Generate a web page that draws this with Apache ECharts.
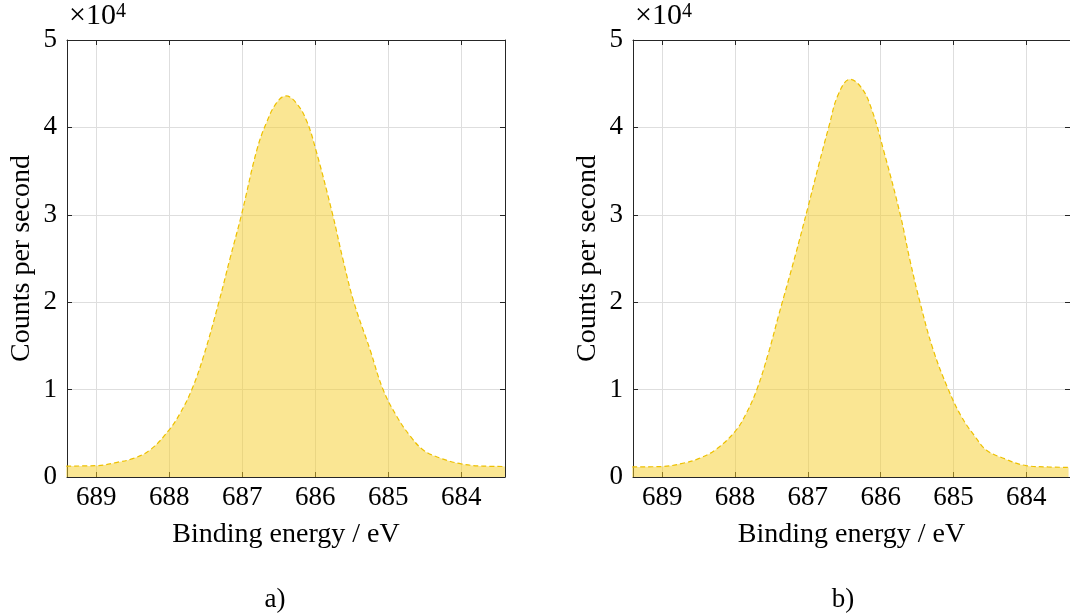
<!DOCTYPE html>
<html>
<head>
<meta charset="utf-8">
<script src="https://cdn.jsdelivr.net/npm/echarts@6/dist/echarts.min.js"></script>
<style>
  html, body { margin: 0; padding: 0; background: #fff; }
  #main { width: 1070px; height: 615px; }
</style>
</head>
<body>
<div id="main"></div>
<script>
// peak a) binding energy (eV) and counts per second
var energyA = [689.41, 689.00, 688.70, 688.50, 688.26, 688.00, 687.85, 687.69, 687.53, 687.32, 687.17, 687.01, 686.80, 686.67, 686.53, 686.40, 686.26, 686.12, 685.99, 685.76, 685.62, 685.47, 685.25, 685.07, 684.88, 684.70, 684.52, 684.30, 684.00, 683.70, 683.40];
var countsA = [1250, 1300, 1700, 2100, 3100, 5400, 7300, 10000, 13800, 20000, 24900, 30000, 37400, 40500, 42800, 43600, 42800, 40800, 37400, 30000, 24900, 20000, 14600, 10000, 6900, 4700, 3100, 2200, 1500, 1250, 1200];

// peak b)
var energyB = [689.41, 689.00, 688.70, 688.50, 688.27, 688.00, 687.85, 687.70, 687.54, 687.40, 687.17, 687.00, 686.85, 686.71, 686.58, 686.42, 686.26, 686.12, 685.96, 685.73, 685.60, 685.46, 685.28, 685.07, 684.89, 684.71, 684.55, 684.30, 684.00, 683.70, 683.42];
var countsB = [1150, 1200, 1600, 2100, 3100, 5200, 7200, 10000, 14200, 18500, 25400, 30800, 35700, 40100, 43800, 45500, 44500, 42000, 37400, 30000, 24900, 20000, 14600, 10000, 6900, 4700, 3100, 2100, 1300, 1150, 1100];

var yTicks = [0, 1, 2, 3, 4, 5];
var panelLabels = ['a)', 'b)'];
var xName = 'Binding energy / eV';
var yName = 'Counts per second';

var FONT = 'Liberation Serif';
var AXIS_COLOR = '#262626';

function pairs(xs, ys) {
  return xs.map(function (x, i) { return [x, ys[i]]; });
}

function xAxisFor(gridIndex, top) {
  return {
    type: 'value', gridIndex: gridIndex, position: top ? 'top' : 'bottom',
    min: 683.4, max: 689.4, inverse: true, minInterval: 1, maxInterval: 1,
    name: top ? '' : xName, nameLocation: 'middle', nameGap: 44,
    nameTextStyle: { fontFamily: FONT, fontSize: 28, color: '#000' },
    axisLine: { show: true, onZero: false, lineStyle: { color: AXIS_COLOR, width: 1 } },
    axisTick: { show: true, inside: true, length: 5, lineStyle: { color: AXIS_COLOR } },
    axisLabel: {
      show: !top, margin: 7, fontFamily: FONT, fontSize: 27, color: '#000',
      showMinLabel: false, showMaxLabel: false,
      formatter: function (v) { return Math.abs(v - Math.round(v)) < 1e-6 ? String(Math.round(v)) : ''; }
    },
    splitLine: { show: !top, lineStyle: { color: '#dedede', width: 1 } }
  };
}

function yAxisFor(gridIndex, right) {
  return {
    type: 'value', gridIndex: gridIndex, position: right ? 'right' : 'left',
    min: 0, max: 50000, interval: 10000,
    name: right ? '' : yName, nameLocation: 'middle', nameGap: 31,
    nameTextStyle: { fontFamily: FONT, fontSize: 28, color: '#000' },
    axisLine: { show: true, onZero: false, lineStyle: { color: AXIS_COLOR, width: 1 } },
    axisTick: { show: true, inside: true, length: 5, lineStyle: { color: AXIS_COLOR } },
    axisLabel: {
      show: !right, margin: 10, fontFamily: FONT, fontSize: 27, color: '#000',
      formatter: function (v) { return String(yTicks[Math.round(v / 10000)]); }
    },
    splitLine: { show: !right, lineStyle: { color: '#dedede', width: 1 } }
  };
}

function peakSeries(idx, data) {
  return {
    type: 'line', xAxisIndex: idx * 2, yAxisIndex: idx * 2,
    data: data, smooth: 0.4, symbol: 'none', z: 3,
    lineStyle: { color: '#EDC000', width: 1.2, type: [5, 3] },
    areaStyle: { color: 'rgba(245, 205, 40, 0.5)', opacity: 1, origin: 'start' }
  };
}

var chart = echarts.init(document.getElementById('main'), null, { renderer: 'canvas' });

// "×10^4" multiplier above each y axis
var scaleText = function (x) {
  return [
    { type: 'text', x: x, y: 31, style: { text: '×10', fontFamily: FONT, fontSize: 30, fill: '#000', align: 'left', verticalAlign: 'bottom' } },
    { type: 'text', x: x + 47, y: 22, style: { text: '4', fontFamily: FONT, fontSize: 20, fill: '#000', align: 'left', verticalAlign: 'bottom' } }
  ];
};

var panelText = function (x, txt) {
  return {
    type: 'text', x: x, y: 600,
    style: { text: txt, fontFamily: FONT, fontSize: 27, fill: '#000', align: 'center', verticalAlign: 'middle' }
  };
};

chart.setOption({
  animation: false,
  backgroundColor: '#fff',
  grid: [
    { left: 67, top: 40, width: 438, height: 437 },
    { left: 633, top: 40, width: 438, height: 437 }
  ],
  xAxis: [xAxisFor(0, false), xAxisFor(0, true), xAxisFor(1, false), xAxisFor(1, true)],
  yAxis: [yAxisFor(0, false), yAxisFor(0, true), yAxisFor(1, false), yAxisFor(1, true)],
  series: [
    peakSeries(0, pairs(energyA, countsA)),
    peakSeries(1, pairs(energyB, countsB))
  ],
  graphic: scaleText(69).concat(scaleText(635), [
    panelText(275, panelLabels[0]),
    panelText(843, panelLabels[1])
  ])
});
</script>
</body>
</html>
